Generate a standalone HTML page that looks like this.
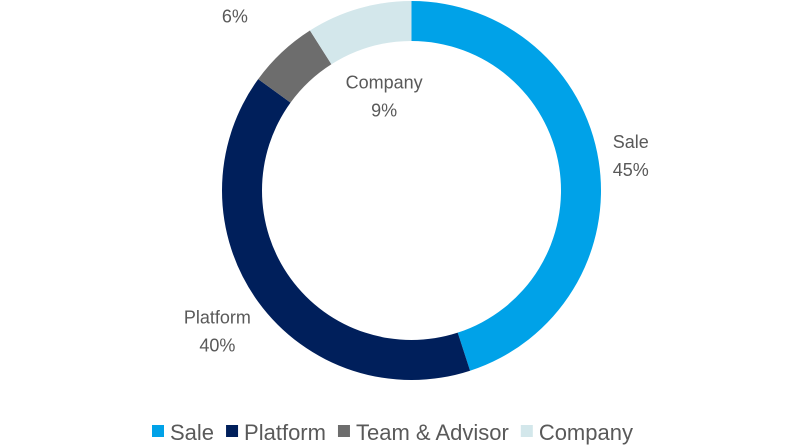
<!DOCTYPE html>
<html><head><meta charset="utf-8"><style>
html,body{margin:0;padding:0;background:#fff;width:800px;height:447px;overflow:hidden}
svg{display:block;font-family:"Liberation Sans",sans-serif}
</style></head><body>
<svg id="chart" width="800" height="447" viewBox="0 0 800 447"></svg>
<script>
const categories=["Sale","Platform","Team & Advisor","Company"];
const values=[45,40,6,9];
const colors=["#00a2e8","#001f5b","#6d6d6d","#d3e7eb"];
const labelRadii=[222,240,258,98];
const NS="http://www.w3.org/2000/svg";
const svg=document.getElementById("chart");
const cx=411.5,cy=190.5,R=189.5,r=149.5;
const total=values.reduce((a,b)=>a+b,0);
function pt(rad,frac){const a=frac*2*Math.PI;return [cx+rad*Math.sin(a),cy-rad*Math.cos(a)];}
let acc=0;
values.forEach((v,i)=>{
  const f0=acc/total,f1=(acc+v)/total;acc+=v;
  const large=(f1-f0)>0.5?1:0;
  const [x0,y0]=pt(R,f0),[x1,y1]=pt(R,f1),[x2,y2]=pt(r,f1),[x3,y3]=pt(r,f0);
  const p=document.createElementNS(NS,"path");
  p.setAttribute("d",`M${x0},${y0}A${R},${R} 0 ${large} 1 ${x1},${y1}L${x2},${y2}A${r},${r} 0 ${large} 0 ${x3},${y3}Z`);
  p.setAttribute("fill",colors[i]);
  
  
  svg.appendChild(p);
  const [lx,ly]=pt(labelRadii[i],(f0+f1)/2);
  const t=document.createElementNS(NS,"text");
  t.setAttribute("x",lx);t.setAttribute("y",ly-8);
  t.setAttribute("text-anchor","middle");t.setAttribute("font-size","18");t.setAttribute("fill","#595959");
  
  
  const s1=document.createElementNS(NS,"tspan");s1.setAttribute("x",lx);s1.textContent=categories[i];
  const s2=document.createElementNS(NS,"tspan");s2.setAttribute("x",lx);s2.setAttribute("dy","28");s2.textContent=Math.round(v/total*100)+"%";
  t.appendChild(s1);t.appendChild(s2);svg.appendChild(t);
});
// legend
const lg=document.createElementNS(NS,"g");


svg.appendChild(lg);
let lx=152;
categories.forEach((c,i)=>{
  const g=document.createElementNS(NS,"g");
  
  
  const sq=document.createElementNS(NS,"rect");
  sq.setAttribute("x",lx);sq.setAttribute("y",425);sq.setAttribute("width",12);sq.setAttribute("height",12);sq.setAttribute("fill",colors[i]);
  const t=document.createElementNS(NS,"text");
  t.setAttribute("x",lx+18);t.setAttribute("y",440);t.setAttribute("font-size","22");t.setAttribute("fill","#595959");
  t.textContent=c;
  g.appendChild(sq);g.appendChild(t);lg.appendChild(g);
  lx+=18+t.getComputedTextLength()+12;
});
</script>
</body></html>
